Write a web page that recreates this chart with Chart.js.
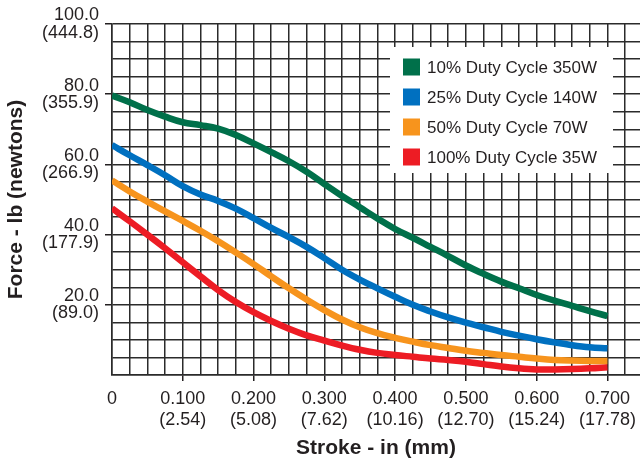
<!DOCTYPE html>
<html>
<head>
<meta charset="utf-8">
<title>Force vs Stroke</title>
<script src="https://cdn.jsdelivr.net/npm/chart.js@4.4.1/dist/chart.umd.min.js"></script>
<style>
    html, body { margin: 0; padding: 0; background: #fff; }
    #forceChart { display: block; }
</style>
</head>
<body>
<canvas id="forceChart" width="640" height="463"></canvas>
<script>
// Stroke positions (in) where force was read
const stroke = [0, 0.025, 0.05, 0.075, 0.1, 0.125, 0.15, 0.175, 0.2, 0.225, 0.25, 0.275, 0.3, 0.325,
    0.35, 0.375, 0.4, 0.425, 0.45, 0.475, 0.5, 0.525, 0.55, 0.575, 0.6, 0.625, 0.65, 0.675, 0.7];

// Force (lb) per duty cycle
const duty10 = [79.6, 77.7, 75.5, 73.6, 72.0, 71.2, 70.2, 68.4, 66.0, 63.5, 60.9, 57.9, 54.4, 51.0,
    47.8, 44.6, 41.6, 39.1, 36.5, 33.9, 31.2, 28.8, 26.6, 24.7, 22.8, 21.2, 19.7, 18.2, 16.8];
const duty25 = [65.5, 62.6, 59.8, 56.9, 53.8, 51.4, 49.6, 47.4, 44.7, 41.9, 39.3, 36.5, 33.3, 30.0,
    27.2, 24.7, 22.3, 20.0, 18.1, 16.4, 14.9, 13.6, 12.3, 11.2, 10.2, 9.3, 8.5, 7.9, 7.6];
const duty50 = [55.4, 52.3, 49.4, 46.6, 43.9, 41.1, 38.1, 34.9, 31.6, 28.1, 24.7, 21.5, 18.5, 15.8,
    13.6, 11.9, 10.6, 9.5, 8.5, 7.7, 6.9, 6.3, 5.7, 5.2, 4.7, 4.3, 4.1, 4.0, 4.0];
const duty100 = [47.5, 43.8, 40.0, 36.1, 32.1, 28.1, 24.2, 20.8, 17.9, 15.4, 13.2, 11.3, 9.8, 8.4,
    7.2, 6.3, 5.7, 5.2, 4.7, 4.3, 3.8, 3.1, 2.4, 1.9, 1.6, 1.6, 1.7, 1.9, 2.2];

const seriesNames = ['10% Duty Cycle 350W', '25% Duty Cycle 140W', '50% Duty Cycle 70W', '100% Duty Cycle 35W'];
const seriesColors = ['#00704a', '#0070c0', '#f7941d', '#ed1c24'];

// Axis labels: inches / millimetres, pounds / newtons
const strokeLabels = ['0', '0.100', '0.200', '0.300', '0.400', '0.500', '0.600', '0.700'];
const mmLabels = ['', '(2.54)', '(5.08)', '(7.62)', '(10.16)', '(12.70)', '(15.24)', '(17.78)'];
const forceLabels = ['', '20.0', '40.0', '60.0', '80.0', '100.0'];
const newtonLabels = ['', '(89.0)', '(177.9)', '(266.9)', '(355.9)', '(444.8)'];

const FONT = '"Liberation Sans", Arial, Helvetica, sans-serif';
const INK = '#231f20';
const GRID = '#2b2b2b';

function points(values) {
    return stroke.map((s, i) => ({ x: s, y: values[i] }));
}

const allSeries = [duty10, duty25, duty50, duty100];

// legend drawn inside the plot on a white panel
const boxLegend = {
    id: 'boxLegend',
    afterDraw(chart) {
        const ctx = chart.ctx;
        const left = 390, top = 47, width = 223, height = 126;
        ctx.save();
        ctx.fillStyle = '#fff';
        ctx.fillRect(left, top, width, height);
        ctx.font = '17px ' + FONT;
        ctx.textBaseline = 'middle';
        chart.data.datasets.forEach((ds, i) => {
            const cy = top + 20 + i * 30;
            ctx.fillStyle = ds.borderColor;
            ctx.fillRect(left + 13, cy - 8.5, 17, 17);
            ctx.fillStyle = INK;
            ctx.fillText(ds.label, left + 37, cy + 1);
        });
        ctx.restore();
    }
};

const ctx = document.getElementById('forceChart').getContext('2d');

new Chart(ctx, {
    type: 'line',
    data: {
        datasets: allSeries.map((vals, i) => ({
            label: seriesNames[i],
            data: points(vals),
            borderColor: seriesColors[i],
            backgroundColor: seriesColors[i],
            borderWidth: 6.5,
            pointRadius: 0,
            tension: 0.4,
            borderCapStyle: 'butt',
            fill: false
        }))
    },
    options: {
        responsive: false,
        animation: false,
        layout: { padding: { top: 24, right: 0, bottom: 0, left: 0 } },
        plugins: {
            legend: { display: false },
            tooltip: { enabled: false }
        },
        scales: {
            x: {
                type: 'linear',
                min: 0,
                max: 0.746,
                afterFit: function(scale) { scale.height = 88; },
                border: { display: true, color: GRID, width: 1.5 },
                grid: {
                    color: GRID,
                    lineWidth: 1.5,
                    tickLength: 6,
                    tickWidth: 1.5,
                    tickColor: function(c) {
                        const v = Math.round(c.tick.value * 1000);
                        return (v > 0 && v % 100 === 0) ? INK : 'rgba(0,0,0,0)';
                    }
                },
                ticks: {
                    stepSize: 0.025,
                    includeBounds: false,
                    autoSkip: false,
                    maxRotation: 0,
                    padding: 7,
                    color: INK,
                    font: { family: FONT, size: 18, lineHeight: 1.2 },
                    callback: function(value) {
                        const v = Math.round(value * 1000);
                        if (v % 100 !== 0) return '';
                        const i = v / 100;
                        return i === 0 ? strokeLabels[0] : [strokeLabels[i], mmLabels[i]];
                    }
                },
                title: {
                    display: true,
                    text: 'Stroke - in (mm)',
                    color: INK,
                    font: { family: FONT, size: 21, weight: 'bold', lineHeight: 1.2 },
                    padding: { top: 0, bottom: 2 }
                }
            },
            y: {
                type: 'linear',
                min: 0,
                max: 100,
                afterFit: function(scale) { scale.width = 112; },
                border: { display: true, color: GRID, width: 1.5 },
                grid: {
                    color: GRID,
                    lineWidth: 1.5,
                    tickLength: 7,
                    tickWidth: 1.5,
                    tickColor: function(c) {
                        const v = Math.round(c.tick.value);
                        return (v > 0 && v % 20 === 0) ? INK : 'rgba(0,0,0,0)';
                    }
                },
                ticks: {
                    stepSize: 5,
                    autoSkip: false,
                    padding: 6,
                    color: INK,
                    font: { family: FONT, size: 18, lineHeight: 0.95 },
                    callback: function(value) {
                        const v = Math.round(value);
                        if (v === 0 || v % 20 !== 0) return '';
                        const i = v / 20;
                        return [forceLabels[i], newtonLabels[i]];
                    }
                },
                title: {
                    display: true,
                    text: 'Force - lb (newtons)',
                    color: INK,
                    font: { family: FONT, size: 21, weight: 'bold', lineHeight: 1.2 },
                    padding: { top: 4, bottom: 0 }
                }
            }
        }
    },
    plugins: [boxLegend]
});
</script>
</body>
</html>
